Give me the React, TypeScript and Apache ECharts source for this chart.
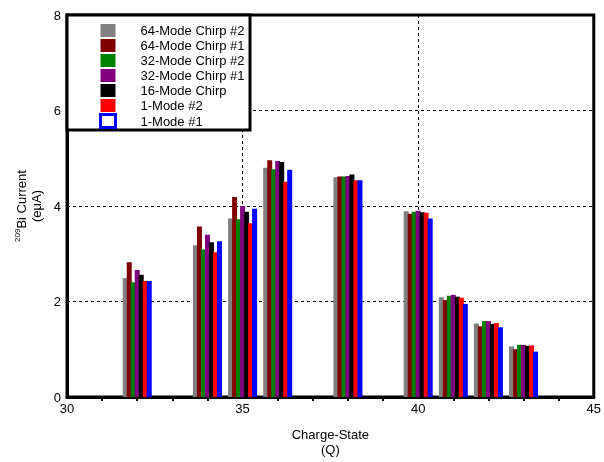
import React, { useEffect, useRef } from "react";
import * as echarts from "echarts";

const chargeStates = [32, 34, 35, 36, 38, 40, 41, 42, 43];
const seriesNames = [
  "64-Mode Chirp #2",
  "64-Mode Chirp #1",
  "32-Mode Chirp #2",
  "32-Mode Chirp #1",
  "16-Mode Chirp",
  "1-Mode #2",
  "1-Mode #1",
];
const seriesColors = ["#808080", "#800000", "#008000", "#800080", "#000000", "#ff0000", "#0000ff"];

const chirp64n2 = [2.49, 3.18, 3.74, 4.8, 4.6, 3.89, 2.09, 1.54, 1.06];
const chirp64n1 = [2.82, 3.57, 4.19, 4.96, 4.62, 3.84, 2.03, 1.48, 1.0];
const chirp32n2 = [2.4, 3.09, 3.72, 4.77, 4.62, 3.88, 2.12, 1.59, 1.09];
const chirp32n1 = [2.66, 3.4, 4.0, 4.94, 4.63, 3.9, 2.14, 1.59, 1.09];
const chirp16 = [2.56, 3.24, 3.88, 4.92, 4.66, 3.87, 2.1, 1.53, 1.07];
const mode1n2 = [2.43, 3.03, 3.64, 4.51, 4.54, 3.86, 2.08, 1.55, 1.08];
const mode1n1 = [2.43, 3.26, 3.94, 4.76, 4.54, 3.74, 1.95, 1.46, 0.95];

const allValues = [chirp64n2, chirp64n1, chirp32n2, chirp32n1, chirp16, mode1n2, mode1n1];

const FONT = "Liberation Sans, Arial, sans-serif";

export default function App() {
  const ref = useRef<HTMLDivElement>(null);
  useEffect(() => {
    if (!ref.current) return;
    const chart = echarts.init(ref.current, undefined, { renderer: "svg" });
    const series = allValues.map((vals, i) => ({
      name: seriesNames[i],
      type: "bar",
      barWidth: 5,
      barGap: "-20%",
      itemStyle: { color: seriesColors[i] },
      data: chargeStates.map((q, j) => [q, vals[j]]),
    }));
    chart.setOption({
      animation: false,
      textStyle: { fontFamily: FONT },
      grid: {
        left: 67,
        right: 5,
        top: 15,
        bottom: 59,
        show: true,
        borderColor: "#000",
        borderWidth: 3,
        backgroundColor: "transparent",
      },
      xAxis: {
        type: "value",
        min: 30,
        max: 45,
        interval: 5,
        name: "Charge-State\n(Q)",
        nameLocation: "middle",
        nameGap: 30,
        nameTextStyle: { fontSize: 13, color: "#000", fontFamily: FONT, lineHeight: 15 },
        axisLine: { show: true, lineStyle: { color: "#000", width: 3 } },
        axisTick: { show: false },
        minorTick: { show: true, splitNumber: 5, length: 4, lineStyle: { color: "#000", width: 2 } },
        axisLabel: { fontSize: 13, color: "#000", fontFamily: FONT, margin: 5 },
        splitLine: { show: true, lineStyle: { color: "#000", type: [3, 3], width: 1 } },
      },
      yAxis: {
        type: "value",
        min: 0,
        max: 8,
        interval: 2,
        name: "{sup|209}{b|Bi Current}\n{b|(eμA)}",
        nameLocation: "middle",
        nameRotate: 90,
        nameGap: 20,
        nameTextStyle: {
          color: "#000",
          fontFamily: FONT,
          rich: {
            sup: { fontSize: 8, verticalAlign: "top", lineHeight: 15, color: "#000", fontFamily: FONT },
            b: { fontSize: 13, lineHeight: 15, color: "#000", fontFamily: FONT },
          },
        },
        axisLine: { show: true, lineStyle: { color: "#000", width: 3 } },
        axisTick: { show: false },
        axisLabel: { fontSize: 13, color: "#000", fontFamily: FONT, margin: 6 },
        splitLine: { show: true, lineStyle: { color: "#000", type: [3, 3], width: 1 } },
      },
      graphic: [
        {
          type: "rect",
          z: 3,
          shape: { x: 67, y: 15, width: 183, height: 115 },
          style: { fill: "#fff", stroke: "#000", lineWidth: 3 },
        },
      ],
      legend: {
        orient: "vertical",
        left: 94,
        top: 18,
        z: 5,
        itemWidth: 15,
        itemHeight: 13,
        itemGap: 0,
        icon: "rect",
        textStyle: {
          fontSize: 13,
          color: "#000",
          fontFamily: FONT,
          lineHeight: 15,
          padding: [0, 0, 0, 20],
        },
        data: seriesNames.map((n, i) =>
          i === 6
            ? { name: n, itemStyle: { color: "#fff", borderColor: "#0000ff", borderWidth: 3 } }
            : { name: n }
        ),
      },
      series,
    });
    return () => chart.dispose();
  }, []);
  return (
    <div
      ref={ref}
      style={{ position: "fixed", left: 0, top: 0, width: 604, height: 462 }}
    />
  );
}
